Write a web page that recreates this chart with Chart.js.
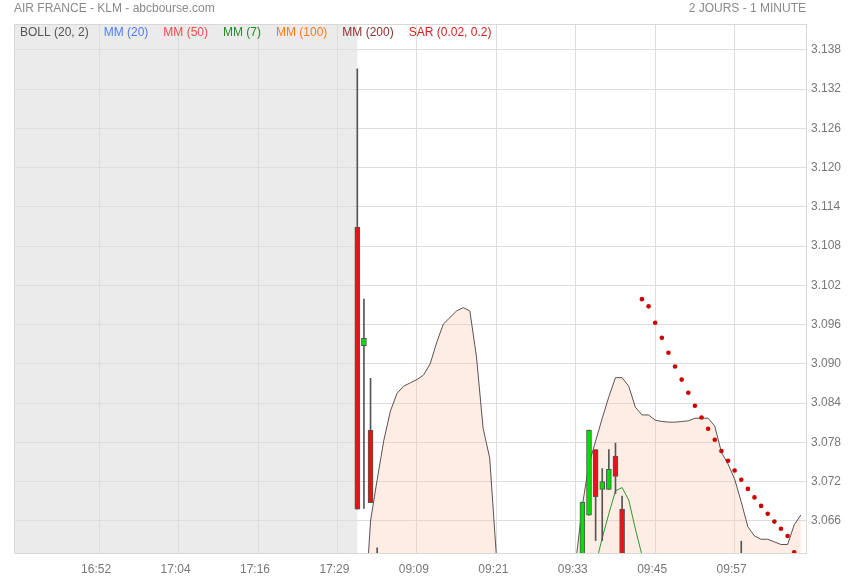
<!DOCTYPE html>
<html>
<head>
<meta charset="utf-8">
<title>AIR FRANCE - KLM</title>
<script src="https://cdn.jsdelivr.net/npm/chart.js@4/dist/chart.umd.min.js"></script>
<style>
  html, body { margin: 0; padding: 0; background: #fff; }
  canvas { display: block; }
</style>
</head>
<body>
<canvas id="chart" width="855" height="580"></canvas>
<script>
// Intraday 1-minute chart, previous session (grey) + today's open

function minuteRange(h, m, count) {
  const out = [];
  for (let k = 0; k < count; k++) {
    const t = h * 60 + m + k;
    out.push(String(Math.floor(t / 60)).padStart(2, '0') + ':' + String(t % 60).padStart(2, '0'));
  }
  return out;
}

// one slot per minute bar
const slotLabels = [
  ...minuteRange(16, 40, 37), ...minuteRange(17, 18, 12), '17:30', '17:35',
  ...minuteRange(9, 0, 68)
];
const tickLabels = ['16:52', '17:04', '17:16', '17:29', '09:09', '09:21', '09:33', '09:45', '09:57'];
const todayStart = '09:00';

// candles (only the ones reaching into the visible price range)
const candleTimes = ['09:00', '09:01', '09:02', '09:03', '09:34', '09:35', '09:36', '09:37', '09:38', '09:39', '09:40', '09:58'];
const opens  = [3.1109, 3.0928, 3.0799, 3.0580, 3.0580, 3.0669, 3.0769, 3.0708, 3.0708, 3.0759, 3.0678, 3.0580];
const highs  = [3.1351, 3.0999, 3.0878, 3.0619, 3.0689, 3.0799, 3.0769, 3.0740, 3.0769, 3.0779, 3.0698, 3.0629];
const lows   = [3.0678, 3.0679, 3.0688, 3.0550, 3.0570, 3.0669, 3.0630, 3.0630, 3.0708, 3.0702, 3.0570, 3.0560];
const closes = [3.0678, 3.0939, 3.0688, 3.0560, 3.0689, 3.0799, 3.0697, 3.0720, 3.0739, 3.0728, 3.0580, 3.0570];

// Bollinger upper band from 09:01 (null = below the visible range)
const bollStart = '09:01';
const bollUpper = [
  3.0500, 3.0660, 3.0723, 3.0783, 3.0828, 3.0855, 3.0866, 3.0871, 3.0876, 3.0883,
  3.0900, 3.0933, 3.0961, 3.0971, 3.0981, 3.0986, 3.0981, 3.0911, 3.0802, 3.0756,
  3.0608, null, null, null, null, null, null, null, null, null,
  null, null, 3.0597, 3.0684, 3.0747, 3.0782, 3.0817, 3.0850, 3.0879, 3.0879,
  3.0866, 3.0834, 3.0822, 3.0822, 3.0814, 3.0812, 3.0811, 3.0811, 3.0812, 3.0813,
  3.0817, 3.0817, 3.0817, 3.0805, 3.0765, 3.0747, 3.0724, 3.0689, 3.0651, 3.0637,
  3.0632, 3.0632, 3.0628, 3.0624, 3.0624, 3.0654, 3.0669
];

// MM(7) from 09:35
const mm7Start = '09:35';
const mm7 = [3.0570, 3.0593, 3.0634, 3.0671, 3.0706, 3.0711, 3.0692, 3.0648, 3.0608, 3.0580];

// Parabolic SAR from 09:43
const sarStart = '09:43';
const sar = [
  3.0999, 3.0988, 3.0963, 3.0940, 3.0917, 3.0896, 3.0876, 3.0856, 3.0836, 3.0818,
  3.0801, 3.0784, 3.0767, 3.0752, 3.0737, 3.0723, 3.0709, 3.0696, 3.0683, 3.0671,
  3.0659, 3.0648, 3.0637, 3.0612
];

const legendItems = ['BOLL (20, 2)', 'MM (20)', 'MM (50)', 'MM (7)', 'MM (100)', 'MM (200)', 'SAR (0.02, 0.2)'];
const legendColors = ['#555555', '#4a7dff', '#f04a4a', '#1f8f1f', '#ff7a1a', '#8e2f2f', '#e01b1b'];

const UP = '#00dd00', DOWN = '#ee1111', EDGE = '#555555';
const FONT = '"Liberation Sans", Arial, sans-serif';

const slot = t => slotLabels.indexOf(t);
const fromStart = (start, values) => values.map((v, k) => ({ x: slot(start) + k, y: v }));

const bodies = candleTimes.map((t, k) => ({ x: slot(t), y: [opens[k], closes[k]] }));
const wicks = candleTimes.map((t, k) => ({ x: slot(t), y: [lows[k], highs[k]] }));
const bodyColors = candleTimes.map((t, k) => closes[k] >= opens[k] ? UP : DOWN);

const sessionShade = {
  id: 'sessionShade',
  beforeDraw(chart) {
    const { ctx, chartArea: a, scales } = chart;
    const x = scales.x.getPixelForValue(slot(todayStart));
    ctx.save();
    ctx.fillStyle = '#ebebeb';
    ctx.fillRect(a.left, a.top, x - a.left, a.bottom - a.top);
    ctx.restore();
  },
  afterDraw(chart) {
    const { ctx, chartArea: a } = chart;
    ctx.save();
    ctx.strokeStyle = '#d9d9d9';
    ctx.lineWidth = 1;
    ctx.strokeRect(Math.round(a.left) - 0.5, Math.round(a.top) - 0.5, Math.round(a.right - a.left) + 1, Math.round(a.bottom - a.top) + 1);

    ctx.font = '12px ' + FONT;
    ctx.textBaseline = 'middle';
    ctx.fillStyle = '#8a8a8a';
    ctx.textAlign = 'left';
    ctx.fillText('AIR FRANCE - KLM - abcbourse.com', 14, 9);
    ctx.textAlign = 'right';
    ctx.fillText('2 JOURS - 1 MINUTE', a.right, 9);

    ctx.textAlign = 'left';
    let x = a.left + 5;
    legendItems.forEach((txt, k) => {
      ctx.fillStyle = legendColors[k];
      ctx.fillText(txt, x, a.top + 8);
      x += ctx.measureText(txt).width + 15;
    });
    ctx.restore();
  }
};

new Chart(document.getElementById('chart'), {
  type: 'bar',
  data: {
    datasets: [
      {
        type: 'line', label: 'BOLL', data: fromStart(bollStart, bollUpper),
        borderColor: '#5a5252', borderWidth: 1, pointRadius: 0, tension: 0,
        fill: 'start', backgroundColor: 'rgba(250, 200, 170, 0.32)', order: 5
      },
      {
        type: 'line', label: 'MM (7)', data: fromStart(mm7Start, mm7),
        borderColor: '#2a9a2a', borderWidth: 1, pointRadius: 0, tension: 0, fill: false, order: 4
      },
      {
        label: 'wicks', data: wicks, backgroundColor: EDGE, barThickness: 1,
        grouped: false, borderWidth: 0, order: 3
      },
      {
        label: 'bodies', data: bodies, backgroundColor: bodyColors, borderColor: EDGE,
        borderWidth: 1, borderSkipped: false, barThickness: 5, grouped: false, order: 2
      },
      {
        type: 'line', label: 'SAR', data: fromStart(sarStart, sar), showLine: false,
        pointRadius: 2.3, pointBackgroundColor: '#cc0000', pointBorderWidth: 0, order: 1
      }
    ]
  },
  options: {
    responsive: false,
    animation: false,
    layout: { padding: { left: 15, top: 25, right: 0, bottom: 0 } },
    plugins: { legend: { display: false }, tooltip: { enabled: false }, title: { display: false } },
    scales: {
      x: {
        type: 'linear', min: -0.71, max: 118.78, offset: false,
        grid: { color: '#dddddd', drawTicks: false, offset: false },
        border: { display: false },
        afterBuildTicks: scale => { scale.ticks = tickLabels.map(t => ({ value: slot(t) })); },
        afterFit: scale => { scale.height = 27; },
        ticks: {
          autoSkip: false, maxRotation: 0, padding: 9, labelOffset: -3, color: '#777',
          font: { family: FONT, size: 12 },
          callback: v => slotLabels[v]
        }
      },
      y: {
        position: 'right', min: 3.0611, max: 3.1418,
        grid: { color: '#dddddd', drawTicks: false },
        border: { display: true, color: '#d9d9d9' },
        afterFit: scale => { scale.width = 49; },
        ticks: {
          stepSize: 0.006, includeBounds: false, padding: 5, color: '#777',
          font: { family: FONT, size: 12 },
          callback: v => v.toFixed(3)
        }
      }
    }
  },
  plugins: [sessionShade]
});
</script>
</body>
</html>
